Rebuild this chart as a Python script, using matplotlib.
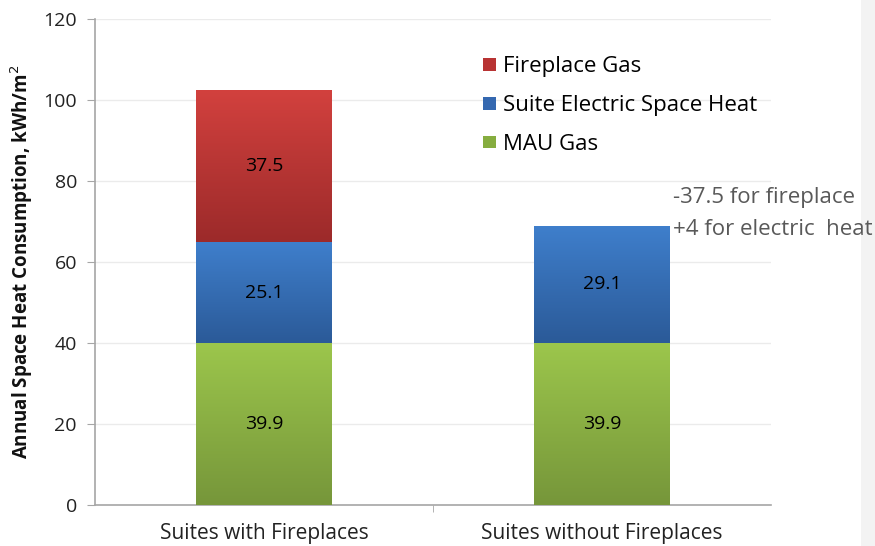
import matplotlib
matplotlib.use("Agg")
import matplotlib.pyplot as plt
import numpy as np
from matplotlib.colors import LinearSegmentedColormap
from matplotlib.patches import Rectangle, Patch

categories = ["Suites with Fireplaces", "Suites without Fireplaces"]
mau_gas = [39.9, 39.9]
suite_electric = [25.1, 29.1]
fireplace_gas = [37.5, 0.0]
series_names = ["MAU Gas", "Suite Electric Space Heat", "Fireplace Gas"]
y_ticks = [0, 20, 40, 60, 80, 100, 120]
note_lines = ["-37.5 for fireplace", "+4 for electric  heat"]

# (top colour, bottom colour) of each segment's vertical gradient
gradients = {
    "MAU Gas": ("#9cc64c", "#76963a"),
    "Suite Electric Space Heat": ("#3f7fcc", "#2b5a98"),
    "Fireplace Gas": ("#d2413e", "#9c2a2a"),
}
legend_colors = {
    "MAU Gas": "#86ad3f",
    "Suite Electric Space Heat": "#3468b0",
    "Fireplace Gas": "#b83333",
}

plt.rcParams["font.family"] = ["Open Sans", "DejaVu Sans"]

fig = plt.figure(figsize=(8.75, 5.46), dpi=100)
ax = fig.add_axes([95 / 875, 1 - 505 / 546, (771 - 95) / 875, (505 - 19) / 546])

x = np.arange(len(categories))
width = 0.4
bottoms = np.zeros(len(categories))
for name, vals in zip(series_names, [mau_gas, suite_electric, fireplace_gas]):
    vals = np.asarray(vals)
    bars = ax.bar(x, vals, width, bottom=bottoms, color="none", edgecolor="none", zorder=3)
    top_c, bot_c = gradients[name]
    cmap = LinearSegmentedColormap.from_list(name, [bot_c, top_c])
    grad = np.linspace(0, 1, 256).reshape(-1, 1)
    for bar, v, b in zip(bars, vals, bottoms):
        if v <= 0:
            continue
        x0 = bar.get_x()
        im = ax.imshow(grad, cmap=cmap, origin="lower", aspect="auto",
                       extent=(x0, x0 + bar.get_width(), b, b + v), zorder=3)
        im.set_clip_path(bar)
        ax.text(bar.get_x() + bar.get_width() / 2, b + v / 2, f"{v:.1f}",
                ha="center", va="center", fontsize=14, color="black", zorder=5)
    bottoms = bottoms + vals

ax.set_xlim(-0.5, len(categories) - 0.5)
ax.set_ylim(0, 120)
ax.set_yticks(y_ticks)
ax.set_xticks(x)
ax.set_xticklabels(categories, fontsize=15)
ax.set_xticks([0.5], minor=True)
ax.tick_params(axis="x", which="major", length=0, pad=13, colors="#222222")
ax.tick_params(axis="x", which="minor", length=5, color="#a6a6a6", direction="out")
ax.tick_params(axis="y", length=6, color="#a6a6a6", labelsize=14, labelcolor="#222222", pad=7)
ax.yaxis.grid(True, color="#ebebeb", linewidth=1)
ax.set_axisbelow(True)
for s in ["top", "right"]:
    ax.spines[s].set_visible(False)
for s in ["left", "bottom"]:
    ax.spines[s].set_color("#a6a6a6")
    ax.spines[s].set_linewidth(1.2)

ax.set_ylabel("Annual Space Heat Consumption, kWh/m$^2$", fontsize=13.5,
              fontweight="bold", labelpad=6, color="#111111")

handles = [Patch(facecolor=legend_colors[n], edgecolor="none") for n in reversed(series_names)]
leg = ax.legend(handles, list(reversed(series_names)), loc="upper left",
                bbox_to_anchor=(0.574, 0.923), frameon=False, fontsize=16,
                borderpad=0, borderaxespad=0,
                handlelength=0.6, handleheight=0.5, handletextpad=0.3,
                labelspacing=0.8)

fig.text(673 / 875, 1 - 198 / 546, note_lines[0], fontsize=16, color="#595959",
         ha="left", va="center")
fig.text(673 / 875, 1 - 229 / 546, note_lines[1], fontsize=16, color="#595959",
         ha="left", va="center")

# light panel strip along the right edge
fig.patches.append(Rectangle((861 / 875, 0), 14 / 875, 1, transform=fig.transFigure,
                             facecolor="#f3f3f3", edgecolor="none", zorder=0))

fig.savefig("out.png", dpi=100)
